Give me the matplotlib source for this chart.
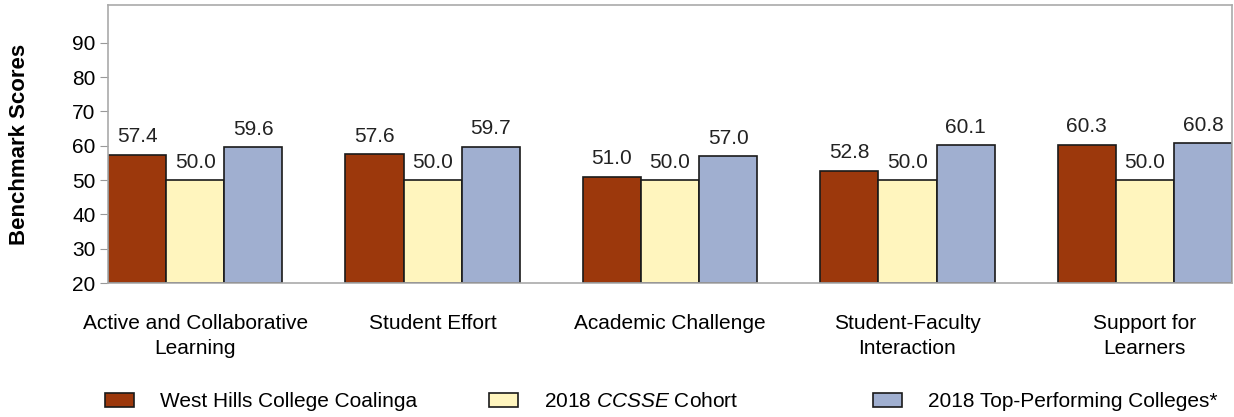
import numpy as np
import matplotlib.pyplot as plt

plt.rcParams['font.family'] = ['Liberation Sans', 'DejaVu Sans']
plt.rcParams['mathtext.fontset'] = 'custom'
plt.rcParams['mathtext.rm'] = 'Liberation Sans'
plt.rcParams['mathtext.it'] = 'Liberation Sans:italic'

# benchmark categories and scores
categories = ['Active and Collaborative\nLearning', 'Student Effort', 'Academic Challenge',
              'Student-Faculty\nInteraction', 'Support for\nLearners']
college = [57.4, 57.6, 51.0, 52.8, 60.3]
cohort = [50.0, 50.0, 50.0, 50.0, 50.0]
top_colleges = [59.6, 59.7, 57.0, 60.1, 60.8]
series_names = ['West Hills College Coalinga', '2018 $\\it{CCSSE}$ Cohort', '2018 Top-Performing Colleges*']
colors = ['#9C380C', '#FFF5BE', '#A0AFD0']

fig = plt.figure(figsize=(12.34, 4.17), dpi=100)
ax = fig.add_axes([0.0875, 0.321, 0.911, 0.667])

x = np.arange(len(categories))
w = 0.245
handles = []
for i, (vals, name, c) in enumerate(zip([college, cohort, top_colleges], series_names, colors)):
    bars = ax.bar(x + (i - 1) * w, np.array(vals) - 20, w, bottom=20, color=c,
                  edgecolor='#1a1a1a', linewidth=1.2, label=name)
    handles.append(bars)
    for b, v in zip(bars, vals):
        ax.annotate('%.1f' % v, (b.get_x() + b.get_width() / 2, v), xytext=(0, 6),
                    textcoords='offset points', ha='center', va='bottom', fontsize=15,
                    color='#222222')

ax.set_xlim(-1.5 * w, len(categories) - 1 + 1.5 * w)
ax.set_ylim(20, 101)
ax.set_yticks(range(20, 100, 10))
ax.set_xticks(x)
ax.set_xticklabels(categories, fontsize=15, linespacing=1.4)
ax.tick_params(axis='x', length=0, pad=22)
ax.tick_params(axis='y', length=6, color='#999999', labelsize=15, pad=3)
for s in ax.spines.values():
    s.set_color('#aaaaaa')
    s.set_linewidth(1.2)
ax.set_ylabel('Benchmark Scores', fontsize=16, fontweight='bold', labelpad=30)

# one legend per series so each sits where the reference puts it
for h, name, xpos in zip(handles, series_names, [105, 489, 873]):
    fig.legend(handles=[h], labels=[name], loc='center left', bbox_to_anchor=(xpos / 1234, 0.036),
               frameon=False, fontsize=15, handlelength=1.4, handleheight=0.63,
               handletextpad=1.25, borderpad=0, borderaxespad=0)

plt.savefig('out.png', dpi=100)
